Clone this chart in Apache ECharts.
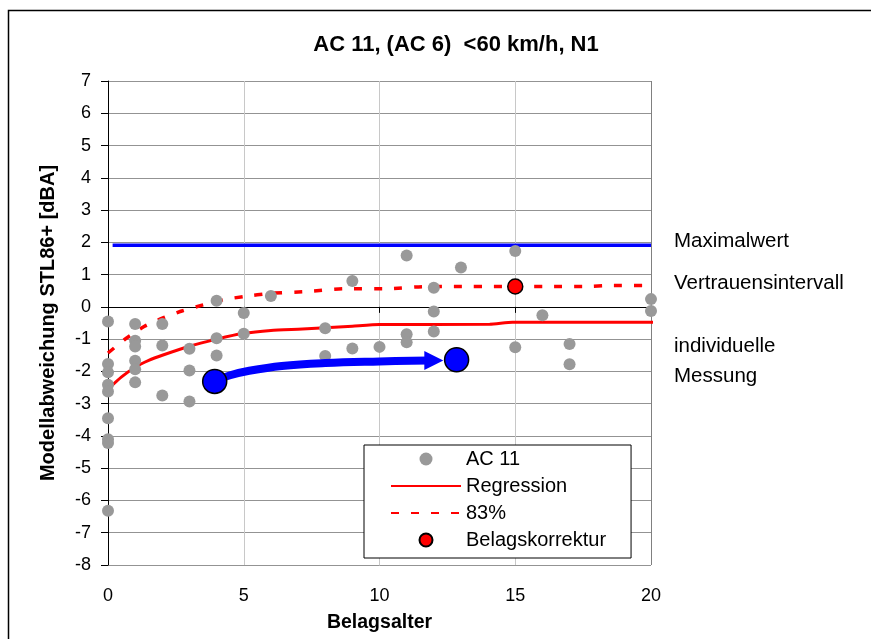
<!DOCTYPE html>
<html>
<head>
<meta charset="utf-8">
<script src="https://cdn.jsdelivr.net/npm/echarts@6/dist/echarts.min.js"></script>
<style>html,body{margin:0;padding:0;background:#fff}#c{width:871px;height:639px}</style>
</head>
<body>
<div id="c"></div>
<script>
// ---- data ----
const titleText = 'AC 11, (AC 6)  <60 km/h, N1';
const xAxisName = 'Belagsalter';
const yAxisName = 'Modellabweichung STL86+ [dBA]';

// AC 11 individual measurements (age [years], deviation [dBA])
const ac11Age = [0,0,0,0,0,0,0,0,0, 1,1,1,1,1,1, 2,2,2, 3,3,3, 4,4,4, 5,5, 6, 8,8, 9,9, 10, 11,11,11, 12,12,12, 13, 15,15, 16, 17,17, 20,20];
const ac11Dev = [-0.45,-1.77,-2.03,-2.41,-2.62,-3.45,-4.1,-4.22,-6.32, -0.53,-1.05,-1.23,-1.67,-1.93,-2.34, -0.53,-1.2,-2.75, -1.3,-1.97,-2.93, 0.19,-0.97,-1.51, -0.19,-0.83, 0.34, -0.66,-1.52, 0.8,-1.29, -1.24, 1.59,-0.85,-1.1, 0.59,-0.14,-0.76, 1.22, 1.73,-1.25, -0.26, -1.15,-1.78, 0.24,-0.13];

// Regression curve
const regAge = [0,0.5,1,1.5,2,3,4,5,6,7,8,9,10,14.06,14.9,20,20.43];
const regDev = [-2.55,-2.17,-1.87,-1.66,-1.5,-1.22,-1.0,-0.82,-0.73,-0.69,-0.65,-0.6,-0.55,-0.54,-0.48,-0.48,-0.48];

// 83% confidence curve
const ciAge = [0,0.6,1.33,2,2.75,3.5,4.24,5,6,7.25,8.7,10.2,11.7,17.6,18.5,20];
const ciDev = [-1.43,-1.02,-0.61,-0.35,-0.12,0.06,0.22,0.32,0.42,0.47,0.56,0.56,0.63,0.63,0.66,0.66];

// Belagskorrektur
const corrAge = [15];
const corrDev = [0.63];

// Maximalwert
const maxAge = [0.17, 20];
const maxDev = [1.91, 1.91];

// individual measurement arrow (start / end)
const arrowAge = [3.93, 4.5, 5.2, 6.4, 8, 10, 11.8];
const arrowDev = [-2.31, -2.12, -1.98, -1.83, -1.74, -1.69, -1.66];
const arrowHeadAge = [12.0];
const arrowHeadDev = [-1.66];
const measAge = [3.93, 12.84];
const measDev = [-2.31, -1.64];

const xTicks = {min: 0, max: 20, interval: 5};
const yTicks = {min: -8, max: 7, interval: 1};

const annotations = [
  {text: 'Maximalwert', x: 674, y: 241},
  {text: 'Vertrauensintervall', x: 674, y: 283},
  {text: 'individuelle', x: 674, y: 346},
  {text: 'Messung', x: 674, y: 376}
];

// ---- build ----
const zip = (a, b) => a.map((v, i) => [v, b[i]]);
const FONT = "'Liberation Sans', Arial, sans-serif";
const noDot = {color: 'rgba(0,0,0,0)', borderColor: 'rgba(0,0,0,0)', borderWidth: 0};

const chart = echarts.init(document.getElementById('c'), null, {renderer: 'canvas'});
chart.setOption({
  animation: false,
  backgroundColor: '#fff',
  textStyle: {fontFamily: FONT, color: '#000'},
  title: {
    text: titleText, left: 451, top: 29, textAlign: 'center',
    textStyle: {fontFamily: FONT, fontSize: 22, fontWeight: 'bold', color: '#000'}
  },
  grid: {left: 108, right: 220, top: 81, bottom: 74, containLabel: false},
  xAxis: [{
    type: 'value', min: xTicks.min, max: xTicks.max, interval: xTicks.interval,
    position: 'bottom',
    axisLine: {show: false, onZero: false}, axisTick: {show: false},
    axisLabel: {fontSize: 18, color: '#000', margin: 22, fontFamily: FONT},
    splitLine: {show: true, lineStyle: {color: ['#000', '#c8c8c8', '#c8c8c8', '#c8c8c8', '#808080'], width: 1}},
    name: xAxisName, nameLocation: 'middle', nameGap: 48,
    nameTextStyle: {fontSize: 19.5, fontWeight: 'bold', color: '#000', fontFamily: FONT}
  }, {
    type: 'value', min: xTicks.min, max: xTicks.max, interval: xTicks.interval,
    position: 'bottom',
    axisLine: {show: true, onZero: true, lineStyle: {color: '#000', width: 1}},
    axisTick: {show: true, length: 6, lineStyle: {color: '#000'}},
    axisLabel: {show: false}, splitLine: {show: false}
  }],
  yAxis: {
    type: 'value', min: yTicks.min, max: yTicks.max, interval: yTicks.interval,
    axisLine: {show: true, onZero: false, lineStyle: {color: '#000', width: 1}},
    axisTick: {show: true, length: 7, lineStyle: {color: '#000'}},
    axisLabel: {fontSize: 18, color: '#000', margin: 17, fontFamily: FONT},
    splitLine: {show: true, lineStyle: {color: '#939393', width: 1}},
    name: yAxisName, nameLocation: 'middle', nameGap: 50,
    nameTextStyle: {fontSize: 20, fontWeight: 'bold', color: '#000', fontFamily: FONT}
  },
  legend: {
    left: 364, top: 445, orient: 'vertical',
    padding: [4, 25, 8, 26], itemGap: 7, itemWidth: 70, itemHeight: 13,
    backgroundColor: '#fff', borderColor: '#000', borderWidth: 1, borderRadius: 0,
    textStyle: {fontSize: 20, color: '#000', fontFamily: FONT},
    data: [
      {name: 'AC 11', icon: 'circle'},
      {name: 'Regression', itemStyle: noDot},
      {name: '83%', itemStyle: noDot},
      {name: 'Belagskorrektur', icon: 'circle'}
    ]
  },
  graphic: [
    {type: 'rect', shape: {x: 8.5, y: 10.5, width: 900, height: 700}, style: {fill: 'none', stroke: '#000', lineWidth: 1.5}, silent: true, z: 100},
    ...annotations.map(a => ({
      type: 'text', x: a.x, y: a.y, silent: true,
      style: {text: a.text, fill: '#000', font: '20.5px ' + FONT, verticalAlign: 'middle'}
    }))
  ],
  series: [
    {name: 'Maximalwert', type: 'line', data: zip(maxAge, maxDev), showSymbol: false, symbol: 'none',
     lineStyle: {color: '#0000ff', width: 3.5}, z: 2},
    {name: 'Regression', type: 'line', data: zip(regAge, regDev), symbol: 'none', smooth: 0.2, clip: false,
     itemStyle: {color: '#ff0000'}, lineStyle: {color: '#ff0000', width: 3}, z: 3},
    {name: '83%', type: 'line', data: zip(ciAge, ciDev), symbol: 'none', smooth: 0.2,
     itemStyle: {color: '#ff0000'}, lineStyle: {color: '#ff0000', width: 3.5, type: [8, 12]}, z: 3},
    {name: 'AC 11', type: 'scatter', data: zip(ac11Age, ac11Dev), symbol: 'circle', symbolSize: 12,
     itemStyle: {color: '#999999', opacity: 1}, z: 4},
    {name: 'Pfeil', type: 'line', data: zip(arrowAge, arrowDev), symbol: 'none', smooth: 0.4,
     lineStyle: {color: '#0000ff', width: 8, cap: 'butt'}, z: 5},
    {name: 'Pfeilspitze', type: 'scatter', data: zip(arrowHeadAge, arrowHeadDev), symbol: 'triangle',
     symbolRotate: -90, symbolSize: [19, 19], itemStyle: {color: '#0000ff', opacity: 1}, z: 5},
    {name: 'Messung', type: 'scatter', data: zip(measAge, measDev), symbol: 'circle', symbolSize: 24,
     itemStyle: {color: '#0000ff', borderColor: '#000', borderWidth: 1.5, opacity: 1}, z: 6},
    {name: 'Belagskorrektur', type: 'scatter', data: zip(corrAge, corrDev), symbol: 'circle', symbolSize: 15,
     itemStyle: {color: '#ff0000', borderColor: '#000', borderWidth: 1.5, opacity: 1}, z: 6}
  ]
});
</script>
</body>
</html>
